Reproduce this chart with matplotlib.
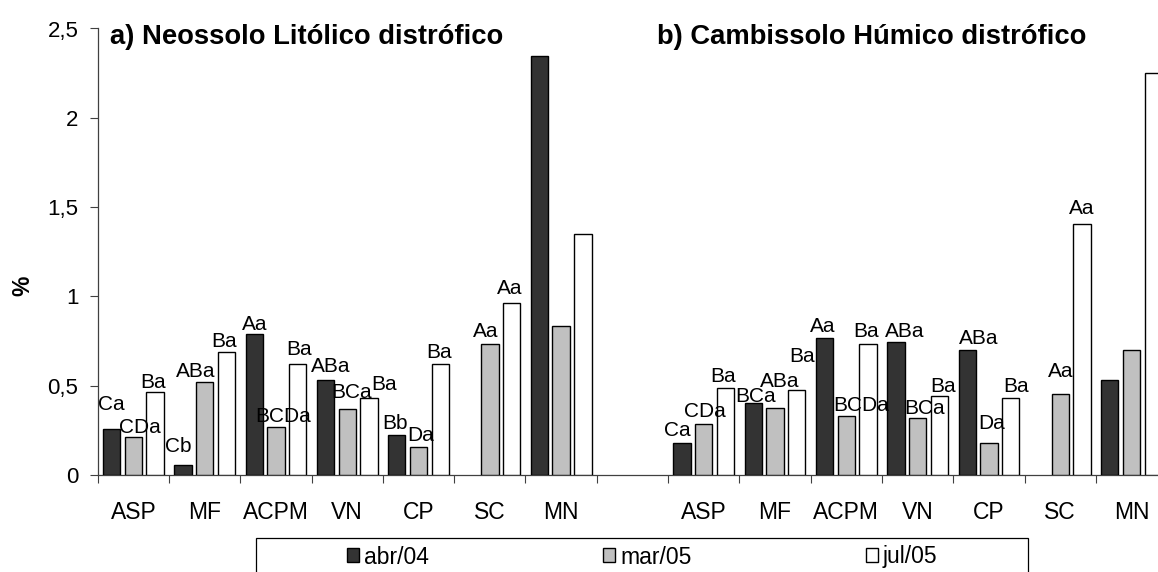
import numpy as np
import matplotlib
matplotlib.use("Agg")
import matplotlib.pyplot as plt
from matplotlib.patches import Rectangle

plt.rcParams['font.family'] = ['Liberation Sans', 'DejaVu Sans']

# ---- data -------------------------------------------------------------
categories = ['ASP', 'MF', 'ACPM', 'VN', 'CP', 'SC', 'MN']
series_names = ['abr/04', 'mar/05', 'jul/05']

# a) Neossolo Litólico distrófico
a_abr04 = [0.258, 0.058, 0.788, 0.534, 0.222, None, 2.348]
a_mar05 = [0.211, 0.521, 0.267, 0.368, 0.157, 0.732, 0.833]
a_jul05 = [0.467, 0.687, 0.621, 0.433, 0.621, 0.961, 1.351]
# b) Cambissolo Húmico distrófico
b_abr04 = [0.177, 0.401, 0.765, 0.743, 0.698, None, 0.532]
b_mar05 = [0.286, 0.377, 0.332, 0.321, 0.177, 0.455, 0.698]
b_jul05 = [0.487, 0.476, 0.732, 0.442, 0.433, 1.405, 2.249]

# significance letters
a_abr04_lab = ['Ca', 'Cb', 'Aa', 'ABa', 'Bb', '', '']
a_mar05_lab = ['CDa', 'ABa', 'BCDa', 'BCa', 'Da', 'Aa', '']
a_jul05_lab = ['Ba', 'Ba', 'Ba', 'Ba', 'Ba', 'Aa', '']
b_abr04_lab = ['Ca', 'BCa', 'Aa', 'ABa', 'ABa', '', '']
b_mar05_lab = ['CDa', 'ABa', 'BCDa', 'BCa', 'Da', 'Aa', '']
b_jul05_lab = ['Ba', 'Ba', 'Ba', 'Ba', 'Ba', 'Aa', '']

yticks = [0, 0.5, 1, 1.5, 2, 2.5]
ytick_labels = ['0', '0,5', '1', '1,5', '2', '2,5']

# ---- label placement tweaks (dx, gap above bar, in pixels) -------------
a_nudge = [
    [(0, 19), (-4.6, 13), (0, 4), (5.5, 7.7), (-1.5, 6), None, None],
    [(6.7, 4), (-8.6, 5), (7.3, 5.6), (4.4, 11), (2, 6), (-4, 7), None],
    [(-2, 3.4), (-2.6, 5.6), (1, 9), (15, 7.7), (-1, 5.7), (-1.6, 9), None],
]
b_nudge = [
    [(-4.3, 7.6), (2, 1.6), (-2, 6.6), (8.6, 5.6), (11.5, 6.3), None, None],
    [(1.3, 7.3), (4.7, 21), (15, 5), (7.3, 3.4), (3, 14), (0, 17), None],
    [(-2.8, 5.7), (5.5, 27.7), (-2, 7.6), (3.3, 3.7), (5.3, 5.4), (0, 9.7), None],
]

colors = ['#333333', '#c0c0c0', '#ffffff']
PX = 72.0 / 100.0  # points per pixel

W, H = 1158, 572
fig = plt.figure(figsize=(W / 100, H / 100), dpi=100)
ax = fig.add_axes([97.7 / W, 97 / H, 15 * 71.3 / W, 446.5 / H])

n_slots = 2 * len(categories) + 1
panel_start = [0, len(categories) + 1]
offsets = [-0.305, 0.0, 0.305]
bar_w = 0.243

panels = [
    ([a_abr04, a_mar05, a_jul05], [a_abr04_lab, a_mar05_lab, a_jul05_lab], a_nudge),
    ([b_abr04, b_mar05, b_jul05], [b_abr04_lab, b_mar05_lab, b_jul05_lab], b_nudge),
]

handles = [None, None, None]
for p, (series, labels, nudges) in enumerate(panels):
    for s in range(3):
        xs, hs, labs, nds = [], [], [], []
        for i, v in enumerate(series[s]):
            if v is None:
                continue
            xs.append(panel_start[p] + i + 0.5 + offsets[s])
            hs.append(v)
            labs.append(labels[s][i])
            nds.append(nudges[s][i])
        cont = ax.bar(xs, hs, width=bar_w, color=colors[s], edgecolor='black',
                      linewidth=1.0, zorder=3)
        if handles[s] is None:
            handles[s] = cont
        for x, h, lab, nd in zip(xs, hs, labs, nds):
            if not lab:
                continue
            dx, gap = nd if nd else (0, 5)
            ax.annotate(lab, (x, h), xytext=(dx * PX, gap * PX),
                        textcoords='offset points', ha='center', va='baseline',
                        fontsize=15, color='black', zorder=4)

ax.set_xlim(0, n_slots)
ax.set_ylim(0, 2.5)

# category labels at slot centres, tick marks at slot boundaries
centres = [panel_start[p] + i + 0.5 for p in range(2) for i in range(len(categories))]
ax.set_xticks(centres)
ax.set_xticklabels(categories * 2, fontsize=16.5)
ax.set_xticks(np.arange(0, n_slots + 1), minor=True)
ax.tick_params(axis='x', which='major', length=0, pad=19)
ax.tick_params(axis='x', which='minor', length=5.5, width=0.8, direction='out',
               color='#404040')

ax.set_yticks(yticks)
ax.set_yticklabels(ytick_labels, fontsize=16)
ax.tick_params(axis='y', length=5.5, width=0.8, direction='out', pad=8.4,
               color='#404040')

for side in ['top', 'right']:
    ax.spines[side].set_visible(False)
for side in ['left', 'bottom']:
    ax.spines[side].set_linewidth(0.9)
    ax.spines[side].set_color('#404040')

ax.set_ylabel('%', fontsize=16.5, fontweight='bold')
ax.yaxis.set_label_coords(34 / W, 0.5, transform=fig.transFigure)

fig.text(110 / W, 1 - 44 / H, 'a) Neossolo Litólico distrófico',
         fontsize=19.7, fontweight='bold', va='baseline', ha='left')
fig.text(656.7 / W, 1 - 44 / H, 'b) Cambissolo Húmico distrófico',
         fontsize=19.7, fontweight='bold', va='baseline', ha='left')

# legend frame and entries
fig.patches.append(Rectangle((256 / W, -0.05), (1028 - 256) / W, 0.05 + (572 - 538) / H,
                             transform=fig.transFigure, fill=False,
                             edgecolor='black', linewidth=0.9))
fig.legend(handles, series_names, loc='center', bbox_to_anchor=(642 / W, 15 / H),
           ncol=3, frameon=False, fontsize=16.5, handlelength=0.55, handleheight=0.55,
           handletextpad=0.2, columnspacing=7.6, borderaxespad=0, borderpad=0)

fig.savefig('out.png', dpi=100)
